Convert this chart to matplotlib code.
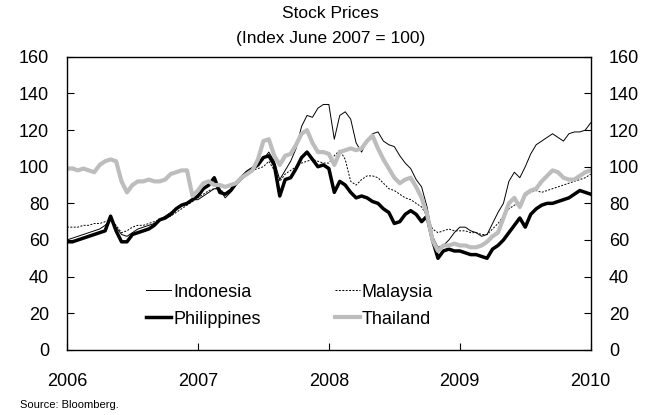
import matplotlib
matplotlib.use("Agg")
import matplotlib.pyplot as plt
import numpy as np

plt.rcParams['font.family'] = ['Liberation Sans', 'DejaVu Sans']

# half-monthly observations, 2006.0 to 2010.0
dates = [2006 + i / 24 for i in range(97)]

indonesia = [60, 61, 62, 63, 64, 65, 66, 68, 71, 67, 63, 62, 64, 66, 67, 68, 69, 71, 73, 75, 77, 79, 80, 82,
             82, 84, 86, 88, 88, 83, 86, 90, 93, 96, 99, 101, 104, 108, 103, 93, 98, 103, 110, 122, 128, 127, 132, 134,
             134, 115, 128, 130, 126, 113, 108, 114, 118, 119, 114, 112, 111, 106, 102, 99, 93, 89, 78, 62, 56, 57, 60, 64,
             67, 67, 65, 64, 62, 63, 69, 75, 80, 92, 97, 94, 100, 107, 112, 114, 116, 118, 116, 114, 118, 119, 119, 120, 124]

malaysia = [67, 67, 67, 68, 68, 69, 69, 70, 71, 68, 64, 65, 67, 68, 68, 69, 70, 71, 72, 73, 75, 77, 79, 81,
            83, 85, 87, 88, 88, 85, 88, 91, 94, 96, 98, 99, 100, 103, 98, 92, 96, 98, 100, 102, 103, 104, 103, 102,
            102, 106, 109, 104, 92, 90, 93, 95, 95, 94, 91, 88, 87, 85, 83, 82, 80, 78, 73, 66, 64, 65, 66, 65,
            65, 65, 64, 64, 63, 63, 66, 69, 73, 77, 79, 80, 84, 86, 87, 86, 87, 88, 89, 90, 91, 92, 93, 94, 96]

philippines = [59, 59, 60, 61, 62, 63, 64, 65, 73, 65, 59, 59, 63, 64, 65, 66, 68, 71, 72, 74, 77, 79, 80, 82,
               84, 88, 90, 94, 86, 85, 87, 91, 94, 97, 99, 101, 105, 106, 101, 84, 93, 94, 99, 105, 108, 104, 100, 101,
               99, 86, 92, 90, 86, 83, 84, 83, 81, 80, 77, 75, 69, 70, 74, 76, 74, 70, 73, 60, 50, 54, 55, 54,
               54, 53, 52, 52, 51, 50, 55, 57, 60, 64, 68, 72, 67, 74, 77, 79, 80, 80, 81, 82, 83, 85, 87, 86, 85]

thailand = [99, 99, 98, 99, 98, 97, 101, 103, 104, 103, 92, 86, 90, 92, 92, 93, 92, 92, 93, 96, 97, 98, 98, 84,
            87, 91, 92, 90, 90, 89, 90, 91, 94, 96, 98, 104, 114, 115, 106, 101, 106, 107, 112, 118, 120, 113, 108, 108,
            107, 101, 108, 109, 110, 109, 110, 114, 117, 110, 104, 99, 94, 91, 93, 94, 89, 83, 74, 60, 54, 57, 57, 58,
            57, 57, 56, 56, 57, 59, 62, 64, 72, 80, 83, 78, 85, 87, 88, 92, 95, 98, 97, 94, 93, 93, 95, 97, 98]

years = [2006, 2007, 2008, 2009, 2010]
y_ticks = [0, 20, 40, 60, 80, 100, 120, 140, 160]

fig = plt.figure(figsize=(6.63, 4.15), dpi=100)
ax = fig.add_axes([0.101, 0.157, 0.79, 0.706])

ax.plot(dates, indonesia, color="black", lw=0.7, label="Indonesia")
ax.plot(dates, malaysia, color="black", lw=0.7, linestyle=(0, (2, 1.5)), label="Malaysia")
ax.plot(dates, philippines, color="black", lw=2.5, label="Philippines")
ax.plot(dates, thailand, color="#bdbdbd", lw=3, label="Thailand")

ax.set_xlim(2006, 2010)
ax.set_ylim(0, 160)
ax.set_xticks(years)
ax.set_yticks(y_ticks)
ax.tick_params(axis='x', direction='in', length=5, pad=17, labelsize=13)
ax.tick_params(axis='y', direction='in', length=5, pad=13, labelsize=13,
               left=True, right=True, labelleft=True, labelright=True)
for s in ax.spines.values():
    s.set_linewidth(1.0)

# legend: handles reordered so the two columns read across
handles, labels = ax.get_legend_handles_labels()
order = [0, 2, 1, 3]
ax.legend([handles[i] for i in order], [labels[i] for i in order], ncol=2, frameon=False,
          loc='lower left', bbox_to_anchor=(0.12, 0.02), fontsize=13, handlelength=1.4,
          handletextpad=0.1, columnspacing=4.1, labelspacing=0.55)

fig.text(0.498, 0.968, "Stock Prices", ha='center', va='center', fontsize=12.5)
fig.text(0.498, 0.908, "(Index June 2007 = 100)", ha='center', va='center', fontsize=12.5)
fig.text(0.03, 0.025, "Source: Bloomberg.", ha='left', va='center', fontsize=8)

fig.savefig("out.png", dpi=100)
